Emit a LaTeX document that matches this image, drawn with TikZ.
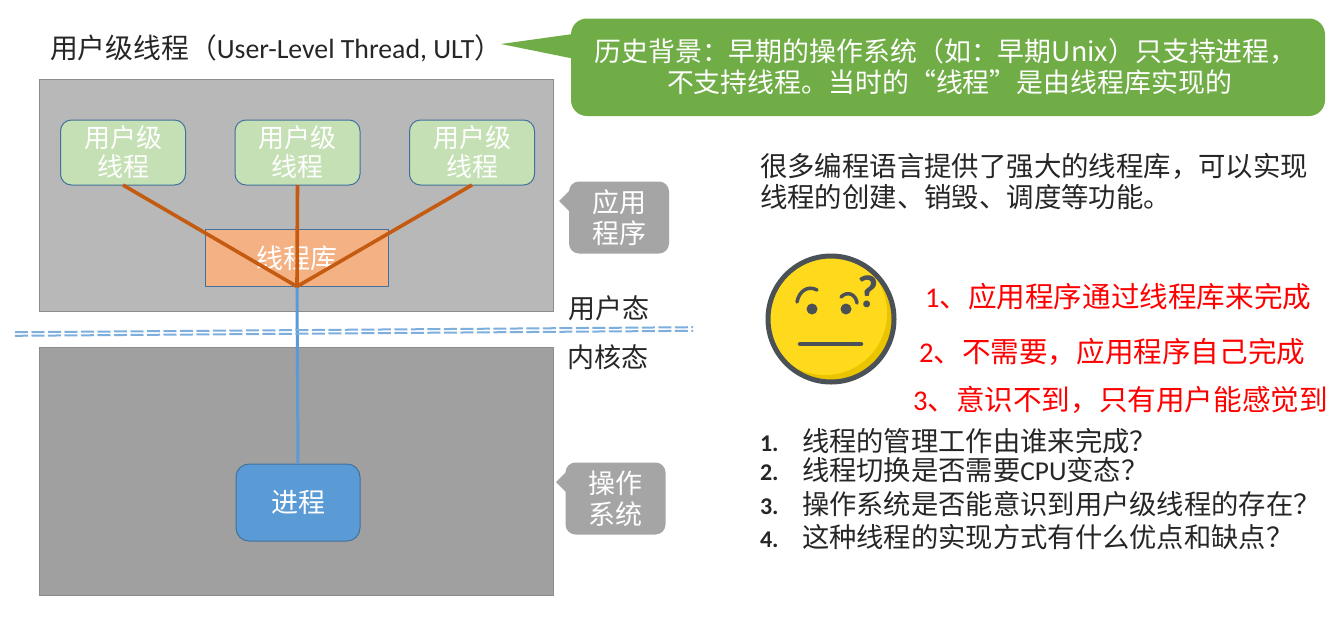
\documentclass[tikz,border=0pt]{standalone}
\usepackage{fontspec}
\setmainfont{Noto Sans CJK SC}
\newfontfamily\latinf{Carlito}
\usetikzlibrary{shapes.geometric}
\definecolor{boxu}{HTML}{B8B8B8}
\definecolor{boxk}{HTML}{A0A0A0}
\definecolor{edgeg}{HTML}{8C8C8C}
\definecolor{thr}{HTML}{C5E0B4}
\definecolor{thrl}{HTML}{41719C}
\definecolor{libf}{HTML}{F4B183}
\definecolor{org}{HTML}{C55A11}
\definecolor{blu}{HTML}{5B9BD5}
\definecolor{grn}{HTML}{70AD47}
\definecolor{tag}{HTML}{A5A5A5}
\definecolor{txt}{HTML}{262626}
\definecolor{faceout}{HTML}{4A5157}
\definecolor{facey}{HTML}{FFD91C}
\definecolor{facec}{HTML}{EBC400}
\tikzset{
 x=1pt,y=-1pt,
 every node/.style={inner sep=0pt,outer sep=0pt,font=\fontsize{27}{32}\selectfont,text=txt,align=center},
 thrbox/.style={draw=thrl,fill=thr,line width=1pt,rounded corners=11pt,minimum width=125pt,minimum height=65pt,text=white,font=\fontsize{26}{30}\selectfont},
 tagbox/.style={fill=tag,rounded corners=10pt,text=white,minimum width=100pt,minimum height=72pt},
 redtxt/.style={text=red,anchor=west,font=\fontsize{28.6}{32}\selectfont},
 qline/.style={anchor=west,font=\fontsize{27.3}{32}\selectfont},
 orgl/.style={draw=org,line width=3.6pt},
 modeline/.style={draw=blu!80,line width=2pt,dashed,dash pattern=on 13pt off 3.5pt}
}
\newcommand{\qnum}[1]{\makebox[42pt][l]{\latinf\bfseries\fontsize{24}{30}\selectfont #1}}
\begin{document}
\begin{tikzpicture}
\useasboundingbox (0,0) rectangle (1341,616);
\fill[white] (0,0) rectangle (1341,616);
% layers
\node[draw=edgeg,fill=boxu,line width=1pt,minimum width=514pt,minimum height=232pt,anchor=north west] (user) at (39,79.5) {};
\node[draw=edgeg,fill=boxk,line width=1pt,minimum width=514pt,minimum height=248pt,anchor=north west] (kern) at (39,347.5) {};
% title
\node[anchor=west,font=\fontsize{27.8}{32}\selectfont] (title) at (50,48) {用户级线程（{\latinf\fontsize{27.8}{32}\selectfont User-Level Thread, ULT}）};
% callout
\fill[grn,rounded corners=16pt] (571,18.5) rectangle (1325,116);
\fill[grn] (501,44) -- (580,33) -- (580,60) -- cycle;
\coordinate (calloutc) at (945.5,67);
\node[text=white,font=\fontsize{26.9}{31}\selectfont] (callout) at (calloutc) {历史背景：早期的操作系统（如：早期Unix）只支持进程，\\\hspace*{8pt}不支持线程。当时的“线程”是由线程库实现的};
% library and threads
\node[draw=thrl,fill=libf,line width=1pt,minimum width=183pt,minimum height=57pt,text=white] (lib) at (297,258) {线程库};
\node[thrbox] (t1) at (123,152.5) {用户级\\[-1pt]线程};
\node[thrbox] (t2) at (297.5,152.5) {用户级\\[-1pt]线程};
\node[thrbox] (t3) at (472,152.5) {用户级\\[-1pt]线程};
\coordinate (hub) at (lib.south);
% process
\node[draw=thrl,fill=blu,line width=1pt,rounded corners=13pt,minimum width=124pt,minimum height=77pt,text=white] (proc) at (298,502.5) {\raisebox{-1.5pt}{进程}};
\draw[draw=blu,line width=3pt] (hub) -- (proc.north);
\draw[orgl] (t1.south) -- (hub);
\draw[orgl] (t2.south) -- (hub);
\draw[orgl] (t3.south) -- (hub);
% mode divider
\coordinate (dl) at (15,334);
\coordinate (dr) at (693,329);
\draw[modeline] ([yshift=-1.8pt]dl) -- ([yshift=-1.8pt]dr);
\draw[modeline] ([yshift=1.8pt]dl) -- ([yshift=1.8pt]dr);
\node[anchor=west] (ulab) at (568,308) {用户态};
\node[anchor=west] (klab) at (567,357) {内核态};
% tags
\node[tagbox] (app) at (619,217.5) {应用\\[-1pt]程序};
\fill[tag] (559,201) -- (572,188) -- (572,214) -- cycle;
\node[tagbox] (os) at (615.5,498.5) {操作\\[-1pt]系统};
\fill[tag] (556,482) -- (568,470) -- (568,494) -- cycle;
% right text
\node[anchor=north west,align=left,font=\fontsize{27.4}{31}\selectfont] (intro) at (760,153.5) {很多编程语言提供了强大的线程库，可以实现\\线程的创建、销毁、调度等功能。};
% face
\fill[facec] (831,319) circle (62pt);
\begin{scope}
\clip (831,319) circle (62pt);
\fill[facey] (825,313) circle (62pt);
\end{scope}
\draw[faceout,line width=5pt] (831,319) circle (63pt);
\draw[faceout,line width=3.5pt,line cap=round] (797,302) .. controls (799,291) and (808,285) .. (817,290);
\draw[faceout,line width=3.5pt,line cap=round] (841,297) .. controls (848,290) and (856,295) .. (857,303);
\fill[faceout] (812,309) circle (5.5pt) (846,309) circle (5.5pt);
\draw[faceout,line width=4.5pt,line cap=round] (800,344) -- (861,344);
\node[text=faceout,font=\fontsize{46}{46}\selectfont\bfseries\latinf] (q) at (868,292) {?};
% answers
\node[redtxt] (a1) at (925,297) {{\latinf 1}、应用程序通过线程库来完成};
\node[redtxt] (a2) at (919,352) {{\latinf 2}、不需要，应用程序自己完成};
\node[redtxt] (a3) at (913,400) {{\latinf 3}、意识不到，只有用户能感觉到};
% questions
\node[qline] (q1) at (760,441) {\qnum{1.}线程的管理工作由谁来完成？};
\node[qline] (q2) at (760,470) {\qnum{2.}线程切换是否需要{\latinf CPU}变态？};
\node[qline] (q3) at (760,504) {\qnum{3.}操作系统是否能意识到用户级线程的存在？};
\node[qline] (q4) at (760,537) {\qnum{4.}这种线程的实现方式有什么优点和缺点？};
\end{tikzpicture}
\end{document}
